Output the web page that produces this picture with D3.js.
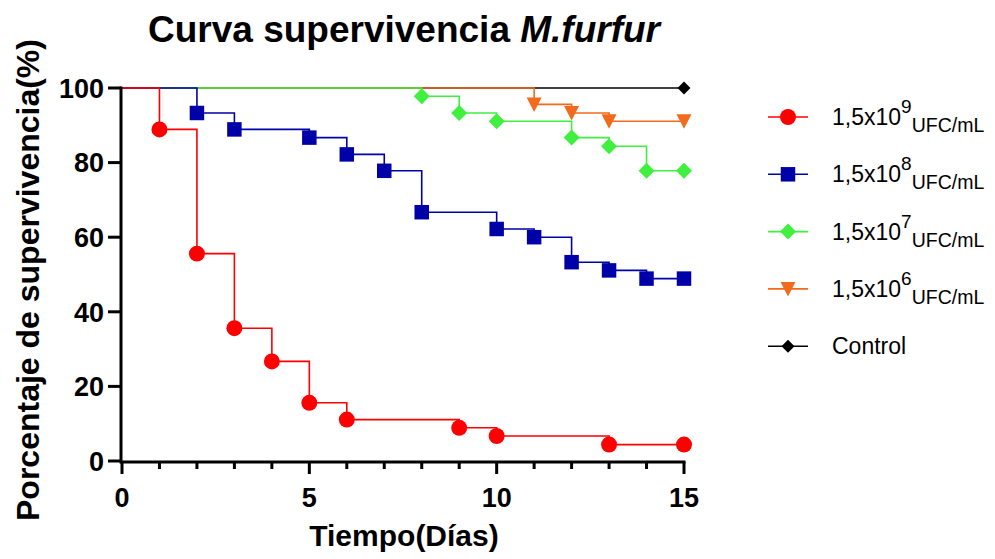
<!DOCTYPE html>
<html>
<head>
<meta charset="utf-8">
<script src="https://cdn.jsdelivr.net/npm/d3@7"></script>
<style>
	body { margin: 0; background: #fff; }
	svg { display: block; }
	.tick-label { font-family: "Liberation Sans", Arial, sans-serif; font-weight: bold; font-size: 27px; }
	.legend-text { font-family: "Liberation Sans", Arial, sans-serif; font-size: 23px; }
</style>
</head>
<body>
<script>
	// Data: days with an event (marker) and survival % at that day
	let days9 = [1, 2, 3, 4, 5, 6, 9, 10, 13, 15];
	let surv9 = [88.9, 55.6, 35.6, 26.7, 15.6, 11.1, 8.9, 6.7, 4.4, 4.4];
	let days8 = [2, 3, 5, 6, 7, 8, 10, 11, 12, 13, 14, 15];
	let surv8 = [93.3, 88.9, 86.7, 82.2, 77.8, 66.7, 62.2, 60.0, 53.3, 51.1, 48.9, 48.9];
	let days7 = [8, 9, 10, 12, 13, 14, 15];
	let surv7 = [97.8, 93.3, 91.1, 86.7, 84.4, 77.8, 77.8];
	let days6 = [11, 12, 13, 15];
	let surv6 = [95.6, 93.3, 91.1, 91.1];
	let daysCtrl = [15];
	let survCtrl = [100];

	let exponents = ['9', '8', '7', '6', null];
	let xTicks = [0, 5, 10, 15];
	let yTicks = [0, 20, 40, 60, 80, 100];

	let series = [
		{name: 'e9', days: days9, surv: surv9, color: '#ff0000', shape: 'circle', exp: exponents[0]},
		{name: 'e8', days: days8, surv: surv8, color: '#0000a8', shape: 'square', exp: exponents[1]},
		{name: 'e7', days: days7, surv: surv7, color: '#3ff03f', shape: 'diamond', exp: exponents[2]},
		{name: 'e6', days: days6, surv: surv6, color: '#f26a1b', shape: 'triangle', exp: exponents[3]},
		{name: 'ctrl', days: daysCtrl, surv: survCtrl, color: '#000000', shape: 'smalldiamond', exp: exponents[4]}
	];

	let width = 995, height = 559;
	let svg = d3.select('body').append('svg')
		.attr('width', width)
		.attr('height', height);

	let x = d3.scaleLinear().domain([0, 15]).range([122, 684]);
	let y = d3.scaleLinear().domain([0, 100]).range([461, 88]);

	// Title
	let title = svg.append('text')
		.attr('x', 404)
		.attr('y', 42)
		.attr('text-anchor', 'middle')
		.style('font-family', '"Liberation Sans", Arial, sans-serif')
		.style('font-weight', 'bold')
		.style('font-size', '37px');
	title.append('tspan').text('Curva supervivencia ');
	title.append('tspan').style('font-style', 'italic').text('M.furfur');

	// Marker symbols
	function markerPath(shape){
		if(shape === 'circle') return d3.symbol(d3.symbolCircle, 200)();
		if(shape === 'square') return d3.symbol(d3.symbolSquare, 210)();
		if(shape === 'diamond') return 'M0,-8L8,0L0,8L-8,0Z';
		if(shape === 'smalldiamond') return 'M0,-6.5L6.5,0L0,6.5L-6.5,0Z';
		if(shape === 'triangle') return 'M-7.5,-7L7.5,-7L0,7.5Z';
	}

	let line = d3.line()
		.x(d => x(d[0]))
		.y(d => y(d[1]))
		.curve(d3.curveStepAfter);

	// Draw control first so the most lethal dose sits on top
	let drawOrder = series.slice().reverse();
	let plot = svg.append('g');
	drawOrder.forEach(s => {
		let pts = [[0, 100]].concat(s.days.map((d, i) => [d, s.surv[i]]));
		plot.append('path')
			.attr('d', line(pts))
			.attr('fill', 'none')
			.attr('stroke', s.color)
			.attr('stroke-width', 1.6);
	});
	drawOrder.forEach(s => {
		plot.selectAll(null)
			.data(s.days.map((d, i) => [d, s.surv[i]]))
			.enter().append('path')
			.attr('transform', d => 'translate(' + x(d[0]) + ',' + y(d[1]) + ')')
			.attr('d', markerPath(s.shape))
			.attr('fill', s.color);
	});

	// Axes
	let xAxis = svg.append('g')
		.attr('transform', 'translate(0,' + (y(0) + 1) + ')');
	xAxis.append('line')
		.attr('x1', x(0) - 1.5).attr('x2', x(15) + 1.5)
		.attr('stroke', '#000').attr('stroke-width', 3);
	xAxis.selectAll('.minor')
		.data(d3.range(0, 16))
		.enter().append('line')
		.attr('x1', d => x(d)).attr('x2', d => x(d))
		.attr('y1', 0).attr('y2', d => xTicks.includes(d) ? 12 : 7)
		.attr('stroke', '#000').attr('stroke-width', 3);
	xAxis.selectAll('.tick-label')
		.data(xTicks)
		.enter().append('text')
		.attr('class', 'tick-label')
		.attr('x', d => x(d))
		.attr('y', 45)
		.attr('text-anchor', 'middle')
		.text(d => d);

	let yAxis = svg.append('g')
		.attr('transform', 'translate(' + (x(0) - 1) + ',0)');
	yAxis.append('line')
		.attr('y1', y(0) + 2.5).attr('y2', y(100) - 1.5)
		.attr('stroke', '#000').attr('stroke-width', 3);
	yAxis.selectAll('.ytick')
		.data(yTicks)
		.enter().append('line')
		.attr('x1', -13).attr('x2', 0)
		.attr('y1', d => y(d)).attr('y2', d => y(d))
		.attr('stroke', '#000').attr('stroke-width', 3);
	yAxis.selectAll('.tick-label')
		.data(yTicks)
		.enter().append('text')
		.attr('class', 'tick-label')
		.attr('x', -17)
		.attr('y', d => y(d))
		.attr('dy', '0.36em')
		.attr('text-anchor', 'end')
		.text(d => d);

	// Axis titles
	svg.append('text')
		.attr('x', 404)
		.attr('y', 546)
		.attr('text-anchor', 'middle')
		.style('font-family', '"Liberation Sans", Arial, sans-serif')
		.style('font-weight', 'bold')
		.style('font-size', '30px')
		.text('Tiempo(Días)');
	svg.append('text')
		.attr('transform', 'translate(39,280) rotate(-90)')
		.attr('text-anchor', 'middle')
		.style('font-family', '"Liberation Sans", Arial, sans-serif')
		.style('font-weight', 'bold')
		.style('font-size', '32px')
		.text('Porcentaje de supervivencia(%)');

	// Legend
	let legend = svg.append('g');
	let rows = legend.selectAll('g')
		.data(series)
		.enter().append('g')
		.attr('transform', (d, i) => 'translate(768,' + (117 + i * 57.3) + ')');
	rows.append('line')
		.attr('x1', 0).attr('x2', 40)
		.attr('stroke', d => d.color)
		.attr('stroke-width', 1.6);
	rows.append('path')
		.attr('transform', 'translate(20,0)')
		.attr('d', d => markerPath(d.shape))
		.attr('fill', d => d.color);
	let labels = rows.append('text')
		.attr('class', 'legend-text')
		.attr('x', 64)
		.attr('y', 8);
	labels.each(function(d){
		let t = d3.select(this);
		if(d.exp === null){
			t.text('Control');
			return;
		}
		t.append('tspan').text('1,5x10');
		t.append('tspan').attr('dy', -12).style('font-size', '19px').text(d.exp);
		t.append('tspan').attr('dy', 19).style('font-size', '19.5px').text('UFC/mL');
	});
</script>
</body>
</html>
